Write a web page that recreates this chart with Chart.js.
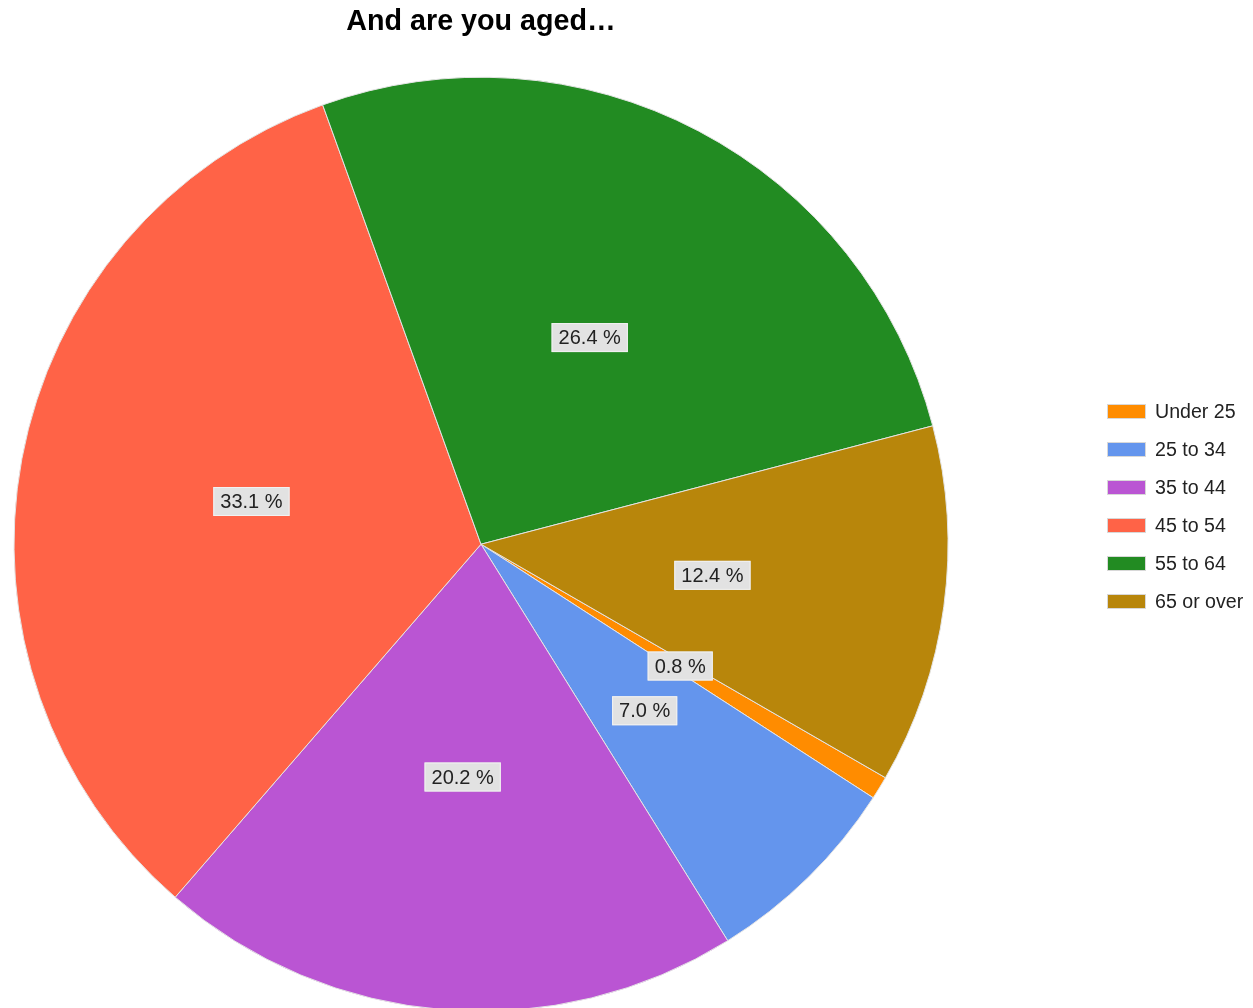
<!DOCTYPE html>
<html>
<head>
<meta charset="utf-8">
<title>And are you aged…</title>
<script src="https://cdn.jsdelivr.net/npm/chart.js@4/dist/chart.umd.min.js"></script>
<style>
    html, body { margin: 0; padding: 0; background: #fff; overflow: hidden; }
    #wrap { position: relative; width: 1253px; height: 1008px; }
</style>
</head>
<body>
<div id="wrap"><canvas id="age-chart"></canvas></div>
<script>
const ageGroups = ['Under 25', '25 to 34', '35 to 44', '45 to 54', '55 to 64', '65 or over'];
const agePercents = [0.8, 7.0, 20.2, 33.1, 26.4, 12.4];
const sliceColors = ['#FF8C00', '#6495ED', '#BA55D3', '#FF6347', '#228B22', '#B8860B'];

// percentage tags in the middle of each slice
const sliceLabels = {
    id: 'sliceLabels',
    afterDatasetsDraw(chart) {
        const ctx = chart.ctx;
        const meta = chart.getDatasetMeta(0);
        ctx.save();
        ctx.font = '20px "Liberation Sans", Arial, sans-serif';
        ctx.textAlign = 'center';
        ctx.textBaseline = 'middle';
        meta.data.forEach((arc, i) => {
            const pos = arc.getCenterPoint();
            const text = agePercents[i].toFixed(1) + ' %';
            const w = ctx.measureText(text).width + 14;
            const h = 29;
            ctx.fillStyle = '#e2e2e2';
            ctx.fillRect(pos.x - w / 2, pos.y - h / 2, w, h);
            ctx.strokeStyle = '#f2f2f2';
            ctx.lineWidth = 1;
            ctx.strokeRect(pos.x - w / 2 + 0.5, pos.y - h / 2 + 0.5, w - 1, h - 1);
            ctx.fillStyle = '#222';
            ctx.fillText(text, pos.x, pos.y + 1);
        });
        ctx.restore();
    }
};

// legend column on the right
const sideLegend = {
    id: 'sideLegend',
    afterDraw(chart) {
        const ctx = chart.ctx;
        const labels = chart.data.labels;
        const colors = chart.data.datasets[0].backgroundColor;
        ctx.save();
        ctx.font = '19.6px "Liberation Sans", Arial, sans-serif';
        ctx.textBaseline = 'middle';
        labels.forEach((label, i) => {
            const y = 411.5 + i * 38;
            ctx.fillStyle = colors[i];
            ctx.fillRect(1107, y - 7.5, 39, 15);
            ctx.strokeStyle = '#d8d8d8';
            ctx.lineWidth = 1;
            ctx.strokeRect(1107.5, y - 7, 38, 14);
            ctx.fillStyle = '#222';
            ctx.fillText(label, 1155, y + 1);
        });
        ctx.restore();
    }
};

new Chart(document.getElementById('age-chart'), {
    type: 'pie',
    data: {
        labels: ageGroups,
        datasets: [{
            data: agePercents,
            backgroundColor: sliceColors,
            borderColor: '#e4e4e4',
            borderWidth: 1,
            clip: false
        }]
    },
    options: {
        responsive: true,
        maintainAspectRatio: false,
        animation: false,
        rotation: 120,
        radius: 467,
        layout: {
            padding: { left: 0, right: 291, top: 0, bottom: 0 }
        },
        plugins: {
            legend: { display: false },
            tooltip: { enabled: false },
            title: {
                display: true,
                text: 'And are you aged…',
                color: '#000',
                font: { family: '"Liberation Sans", Arial, sans-serif', size: 28.7, weight: 'bold' },
                padding: { top: 5, bottom: 41 }
            }
        }
    },
    plugins: [sliceLabels, sideLegend]
});
</script>
</body>
</html>
